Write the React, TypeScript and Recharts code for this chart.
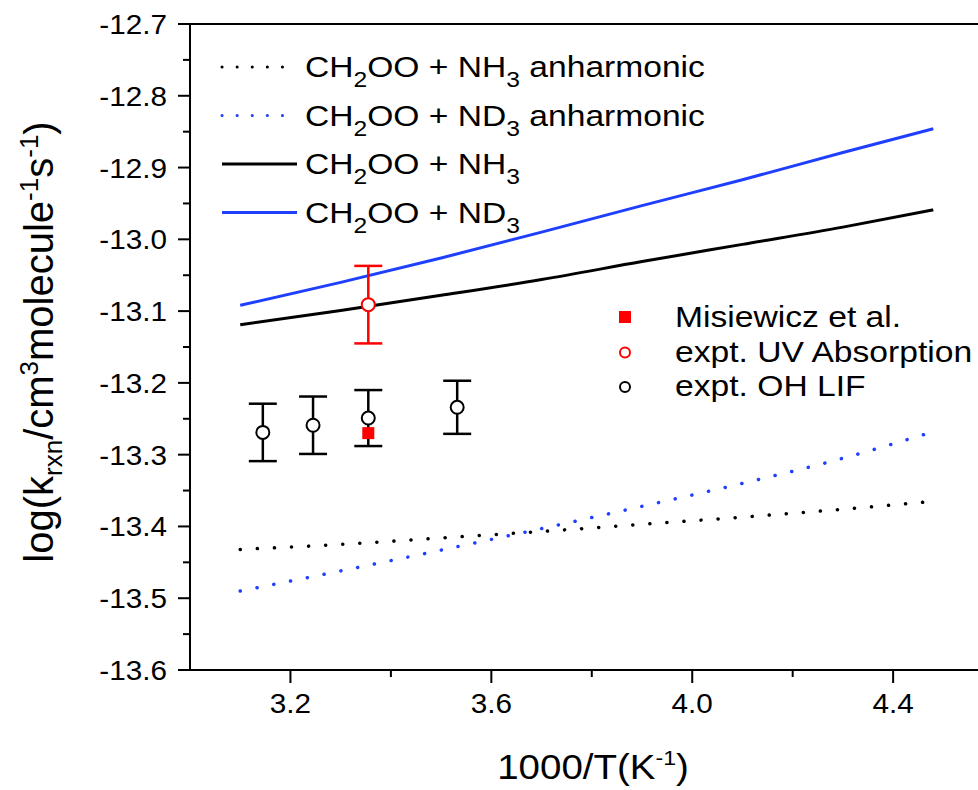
import React from 'react';
import { ComposedChart, Line, Scatter, XAxis, YAxis, ErrorBar, ReferenceLine } from 'recharts';

// computed curves, log k vs 1000/T
const nh3Anharmonic = [
  { x: 3.1, y: -13.432 }, { x: 3.3, y: -13.425 }, { x: 3.5, y: -13.416 }, { x: 3.7, y: -13.407 },
  { x: 3.9, y: -13.397 }, { x: 4.1, y: -13.387 }, { x: 4.3, y: -13.376 }, { x: 4.48, y: -13.365 },
];
const nd3Anharmonic = [
  { x: 3.1, y: -13.49 }, { x: 3.3, y: -13.462 }, { x: 3.5, y: -13.433 }, { x: 3.7, y: -13.403 },
  { x: 3.9, y: -13.372 }, { x: 4.1, y: -13.34 }, { x: 4.3, y: -13.305 }, { x: 4.48, y: -13.268 },
];
const nh3Harmonic = [
  { x: 3.1, y: -13.119 }, { x: 3.3, y: -13.099 }, { x: 3.5, y: -13.078 }, { x: 3.7, y: -13.056 },
  { x: 3.9, y: -13.031 }, { x: 4.1, y: -13.007 }, { x: 4.3, y: -12.983 }, { x: 4.48, y: -12.959 },
];
const nd3Harmonic = [
  { x: 3.1, y: -13.092 }, { x: 3.3, y: -13.06 }, { x: 3.5, y: -13.026 }, { x: 3.7, y: -12.99 },
  { x: 3.9, y: -12.953 }, { x: 4.1, y: -12.917 }, { x: 4.3, y: -12.879 }, { x: 4.48, y: -12.846 },
];

// experiments
const ohLif = [
  { x: 3.145, y: -13.269, err: 0.04 },
  { x: 3.245, y: -13.259, err: 0.04 },
  { x: 3.355, y: -13.249, err: 0.039 },
  { x: 3.532, y: -13.234, err: 0.037 },
];
const uvAbsorption = [{ x: 3.355, y: -13.091, err: 0.054 }];
const misiewicz = [{ x: 3.355, y: -13.27 }];

const xMajor = [3.2, 3.6, 4.0, 4.4];
const xMinor = [3.4, 3.8, 4.2];
const yMajor = [-12.7, -12.8, -12.9, -13.0, -13.1, -13.2, -13.3, -13.4, -13.5, -13.6];
const yMinor = [-12.75, -12.85, -12.95, -13.05, -13.15, -13.25, -13.35, -13.45, -13.55];

const FONT = '"Liberation Sans", Arial, sans-serif';
const SX = 1.1; // the figure's text is a bit wide

const XTick = (props: any) => {
  const { x, y, payload } = props;
  const major = xMajor.includes(payload.value);
  return (
    <g>
      <line x1={x} x2={x} y1={y} y2={y + (major ? 13 : 7)} stroke="#000" strokeWidth={2} />
      {major && (
        <text transform={`translate(${x},${y + 43}) scale(${SX},1)`} textAnchor="middle"
          fontSize={27} fontFamily={FONT} fill="#000">
          {payload.value.toFixed(1)}
        </text>
      )}
    </g>
  );
};

const YTick = (props: any) => {
  const { x, y, payload } = props;
  const major = yMajor.some((v) => Math.abs(v - payload.value) < 1e-6);
  return (
    <g>
      <line x1={x - (major ? 12 : 7)} x2={x} y1={y} y2={y} stroke="#000" strokeWidth={2} />
      {major && (
        <text transform={`translate(${x - 23},${y + 10}) scale(${SX},1)`} textAnchor="end"
          fontSize={27} fontFamily={FONT} fill="#000">
          {payload.value.toFixed(1)}
        </text>
      )}
    </g>
  );
};

const circle = (stroke: string, r: number) => (props: any) => (
  <circle cx={props.cx} cy={props.cy} r={r} fill="#fff" stroke={stroke} strokeWidth={2} />
);
const square = (props: any) => (
  <rect x={props.cx - 6} y={props.cy - 6} width={12} height={12} fill="#ff0000" />
);

const legendLines = [
  { label: 'anh-nh3', color: '#000', dotted: true, gas: 'NH', tail: ' anharmonic' },
  { label: 'anh-nd3', color: '#1f3fff', dotted: true, gas: 'ND', tail: ' anharmonic' },
  { label: 'nh3', color: '#000', dotted: false, gas: 'NH', tail: '' },
  { label: 'nd3', color: '#1f3fff', dotted: false, gas: 'ND', tail: '' },
];
const legendMarks = [
  { name: 'Misiewicz et al.', mark: 'square' },
  { name: 'expt. UV Absorption', mark: 'red' },
  { name: 'expt. OH LIF', mark: 'black' },
];

export default function App() {
  return (
    <div style={{ position: 'absolute', left: 0, top: 0, width: 978, height: 790, background: '#fff' }}>
      <ComposedChart width={978} height={790} margin={{ top: 24, right: 0, bottom: 0, left: 0 }}>
        <XAxis
          type="number"
          dataKey="x"
          domain={[3.0, 4.569]}
          allowDataOverflow
          ticks={[...xMajor, ...xMinor]}
          interval={0}
          tick={<XTick />}
          tickSize={0}
          tickMargin={0}
          height={120}
          axisLine={{ stroke: '#000', strokeWidth: 2 }}
          label={{
            content: () => (
              <text transform={`translate(593,779) scale(1.1,1)`} textAnchor="middle" fontSize={35}
                fontFamily={FONT} fill="#000">
                1000/T(K<tspan dy={-14} fontSize={21}>-1</tspan>
                <tspan dy={14}>)</tspan>
              </text>
            ),
          }}
        />
        <YAxis
          type="number"
          dataKey="y"
          domain={[-13.6, -12.7]}
          allowDataOverflow
          ticks={[...yMajor, ...yMinor]}
          interval={0}
          tick={<YTick />}
          tickSize={0}
          tickMargin={0}
          width={190}
          axisLine={{ stroke: '#000', strokeWidth: 2 }}
          label={{
            content: () => (
              <text
                x={53}
                y={342}
                transform="rotate(-90, 53, 342)"
                textAnchor="middle"
                fontSize={40}
                fontFamily={FONT}
                fill="#000"
              >
                log(k<tspan dy={9} fontSize={26}>rxn</tspan>
                <tspan dy={-9}>/cm</tspan>
                <tspan dy={-15} fontSize={26}>3</tspan>
                <tspan dy={15}>molecule</tspan>
                <tspan dy={-15} fontSize={26}>-1</tspan>
                <tspan dy={15}>s</tspan>
                <tspan dy={-15} fontSize={26}>-1</tspan>
                <tspan dy={15}>)</tspan>
              </text>
            ),
          }}
        />
        <ReferenceLine y={-12.7} stroke="#000" strokeWidth={2} />
        <Line data={nh3Anharmonic} dataKey="y" type="monotone" stroke="#000" strokeWidth={3.5}
          strokeDasharray="0.1 17" strokeLinecap="round" dot={false} isAnimationActive={false} />
        <Line data={nd3Anharmonic} dataKey="y" type="monotone" stroke="#1f3fff" strokeWidth={3.5}
          strokeDasharray="0.1 17" strokeLinecap="round" dot={false} isAnimationActive={false} />
        <Line data={nh3Harmonic} dataKey="y" type="monotone" stroke="#000" strokeWidth={3}
          dot={false} isAnimationActive={false} />
        <Line data={nd3Harmonic} dataKey="y" type="monotone" stroke="#1f3fff" strokeWidth={3}
          dot={false} isAnimationActive={false} />
        <Scatter data={ohLif} dataKey="y" shape={circle('#000', 6.5)} isAnimationActive={false}>
          <ErrorBar dataKey="err" direction="y" width={14} stroke="#000" strokeWidth={2.5} />
        </Scatter>
        <Scatter data={uvAbsorption} dataKey="y" shape={circle('#ff0000', 6.5)} isAnimationActive={false}>
          <ErrorBar dataKey="err" direction="y" width={14} stroke="#ff0000" strokeWidth={2.5} />
        </Scatter>
        <Scatter data={misiewicz} dataKey="y" shape={square} isAnimationActive={false} />
      </ComposedChart>

      <svg width={978} height={790} style={{ position: 'absolute', left: 0, top: 0, pointerEvents: 'none' }}
        fontFamily={FONT}>
        {legendLines.map((l, i) => {
          const base = 77 + i * 48.5;
          return (
            <g key={l.label}>
              <line x1={222} x2={297} y1={base - 10} y2={base - 10} stroke={l.color} strokeWidth={3}
                strokeDasharray={l.dotted ? '0.1 15' : undefined} strokeLinecap={l.dotted ? 'round' : 'butt'} />
              <text transform={`translate(305,${base}) scale(1.12,1)`} fontSize={30} fill="#000">
                CH<tspan dy={10} fontSize={22}>2</tspan>
                <tspan dy={-10}>OO + {l.gas}</tspan>
                <tspan dy={10} fontSize={22}>3</tspan>
                <tspan dy={-10}>{l.tail}</tspan>
              </text>
            </g>
          );
        })}
        {legendMarks.map((m, i) => {
          const base = 327 + i * 34.5;
          return (
            <g key={m.name}>
              {m.mark === 'square' ? (
                <rect x={619} y={base - 16} width={12} height={12} fill="#ff0000" />
              ) : (
                <circle cx={625} cy={base - 9} r={5} fill="#fff" stroke={m.mark === 'red' ? '#ff0000' : '#000'}
                  strokeWidth={2} />
              )}
              <text transform={`translate(675,${base}) scale(1.16,1)`} fontSize={29} fill="#000">
                {m.name}
              </text>
            </g>
          );
        })}
      </svg>
    </div>
  );
}
